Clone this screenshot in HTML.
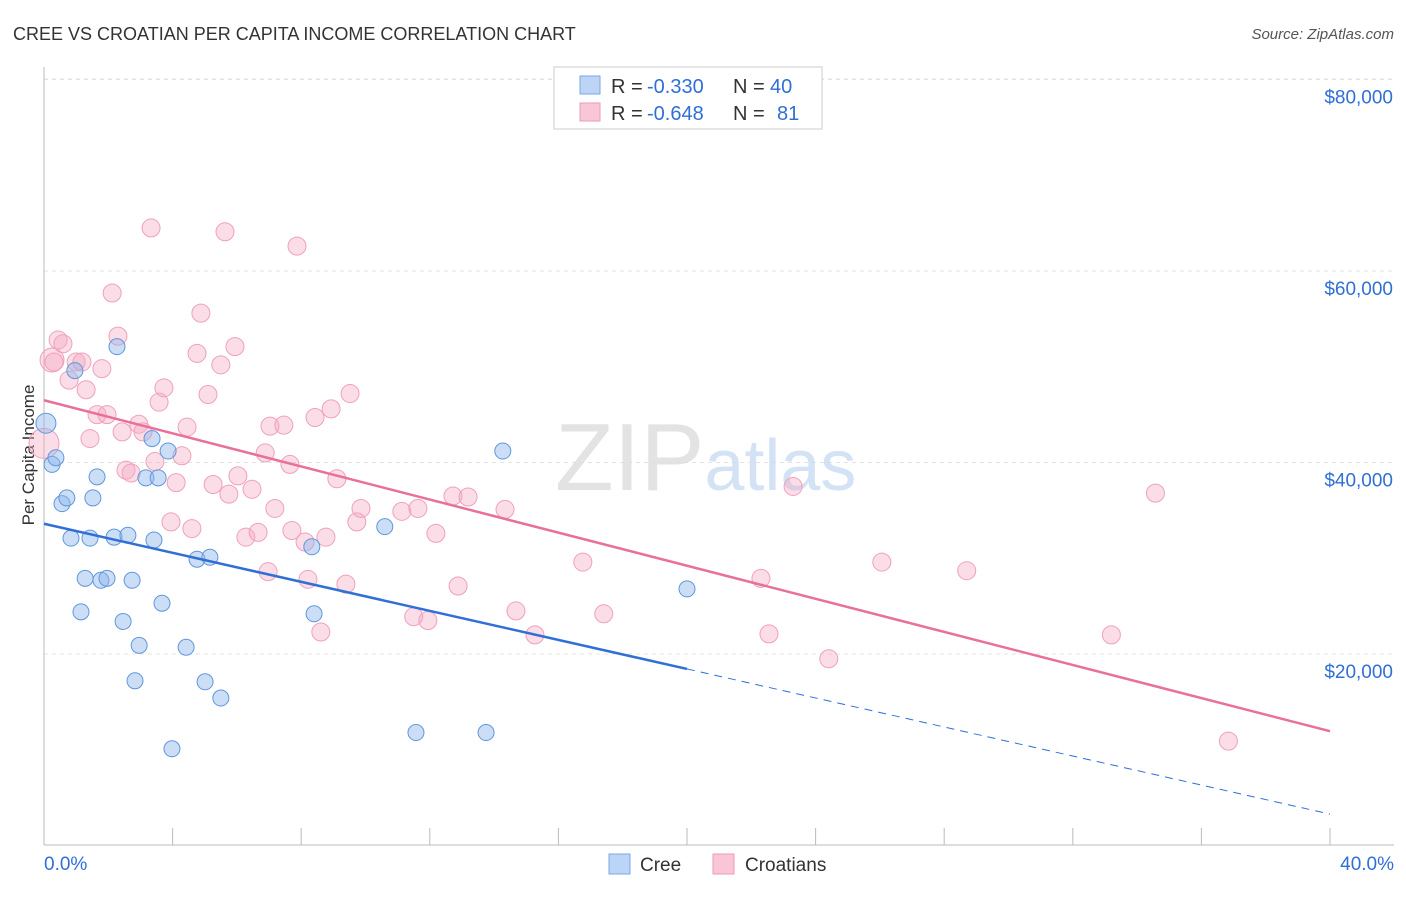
<!DOCTYPE html>
<html><head><meta charset="utf-8"><style>
body{margin:0;background:#fff;font-family:"Liberation Sans",sans-serif;}
svg text{font-family:"Liberation Sans",sans-serif;}
</style></head><body>
<svg id="chart" width="1406" height="892" viewBox="0 0 1406 892" xmlns="http://www.w3.org/2000/svg">
<text x="13" y="40" font-size="18" fill="#333">CREE VS CROATIAN PER CAPITA INCOME CORRELATION CHART</text>
<text x="1394" y="39" font-size="15" fill="#555" text-anchor="end" font-style="italic">Source: ZipAtlas.com</text>
<g id="grid"></g>
<text x="555" y="490" font-size="96" fill="#ddd" font-family="Liberation Serif" opacity="0.8">ZIP<tspan fill="#c9dcf2" font-family="Liberation Sans" font-size="72">atlas</tspan></text>
<text transform="translate(34,455) rotate(-90)" font-size="17" fill="#333" text-anchor="middle">Per Capita Income</text>
<g id="axes"></g>
<g id="marks"></g>
<g>
<rect x="554" y="67" width="268" height="62" fill="#fff" stroke="#ccc"/>
<rect x="580" y="76" width="20" height="18" fill="#bcd5f5" stroke="#7aa8e6"/>
<text x="611" y="93" font-size="20" fill="#333">R =</text>
<text x="647" y="93" font-size="20" fill="#2f6fd6">-0.330</text>
<text x="733" y="93" font-size="20" fill="#333">N =</text>
<text x="770" y="93" font-size="20" fill="#2f6fd6">40</text>
<rect x="580" y="103" width="20" height="18" fill="#f9c6d6" stroke="#ee9ab6"/>
<text x="611" y="120" font-size="20" fill="#333">R =</text>
<text x="647" y="120" font-size="20" fill="#2f6fd6">-0.648</text>
<text x="733" y="120" font-size="20" fill="#333">N =</text>
<text x="777" y="120" font-size="20" fill="#2f6fd6">81</text>
</g>
<g>
<rect x="609" y="854" width="21" height="20" fill="#bcd5f5" stroke="#7aa8e6"/>
<text x="640" y="871" font-size="19" fill="#333">Cree</text>
<rect x="713" y="854" width="21" height="20" fill="#f9c6d6" stroke="#ee9ab6"/>
<text x="745" y="871" font-size="19" fill="#333">Croatians</text>
</g>
</svg>
<script>
const xTicks=[0,4,8,12,16,20,24,28,32,36,40];
const yTicks=[20000,40000,60000,80000];
const yTickLabels=["$20,000","$40,000","$60,000","$80,000"];
const creeX=[0.06,0.25,0.37,0.56,0.71,0.84,0.96,1.15,1.28,1.43,1.52,1.65,1.77,1.96,2.18,2.27,2.46,2.61,2.74,2.83,2.96,3.17,3.36,3.42,3.55,3.67,3.86,3.98,4.42,4.76,5.01,5.16,5.50,8.33,8.40,10.6,11.57,13.75,14.27,20.0];
const creeY=[44100,39800,40500,35700,36300,32100,49600,24400,27900,32100,36300,38500,27700,27900,32200,52100,23400,32400,27700,17200,20900,38400,42500,31900,38400,25300,41200,10100,20700,29900,17100,30100,15400,31200,24200,33300,11800,11800,41200,26800];
const croX=[0.0,0.25,0.31,0.44,0.59,0.78,1.0,1.18,1.31,1.43,1.65,1.80,1.96,2.12,2.30,2.43,2.55,2.71,2.95,3.08,3.33,3.45,3.58,3.73,3.95,4.11,4.29,4.45,4.60,4.76,4.88,5.10,5.26,5.50,5.63,5.75,5.94,6.03,6.28,6.47,6.66,6.88,6.97,7.03,7.18,7.46,7.65,7.71,7.87,8.12,8.21,8.43,8.61,8.77,8.93,9.11,9.39,9.52,9.73,9.86,11.13,11.5,11.63,11.94,12.19,12.72,12.88,13.19,14.34,14.68,15.27,16.76,17.41,22.3,22.55,23.3,24.41,26.06,28.7,33.2,34.57,36.84];
const croY=[42000,50700,50500,52800,52400,48600,50500,50500,47600,42500,45000,49800,45000,57700,53200,43200,39200,38900,44000,43200,64500,40100,46300,47800,33800,37900,40700,43700,33100,51400,55600,47100,37700,50200,64100,36700,52100,38600,32200,37200,32700,41000,28600,43800,35200,43900,39800,32900,62600,31700,27800,44700,22300,32200,45600,38300,27300,47200,33800,35200,34900,23900,35200,23500,32600,36500,27100,36400,35100,24500,22000,29600,24200,27900,22100,37500,19500,29600,28700,22000,36800,10900];
const creeTrend=[33600,-758];
const croTrend=[46500,-864];
const NS="http://www.w3.org/2000/svg";
const X=v=>44+v/40*1286, Y=v=>845.5-v/20000*191.5;
function mk(p,tag,a){const e=document.createElementNS(NS,tag);for(const k in a)e.setAttribute(k,a[k]);document.getElementById(p).appendChild(e);return e;}
yTicks.forEach((t,i)=>{
 const l=mk('grid','line',{x1:44,x2:1394,y1:Y(t),y2:Y(t),stroke:'#e3e3e3','stroke-dasharray':'4,4'});
 
 
 const tx=mk('axes','text',{x:1393,y:Y(t)+24,'font-size':19,fill:'#2f6fd6','text-anchor':'end'});
 tx.textContent=yTickLabels[i];
 
 
});
mk('grid','line',{x1:44,x2:1394,y1:79,y2:79,stroke:'#e3e3e3','stroke-dasharray':'4,4'});
const ax=mk('axes','line',{x1:44,x2:44,y1:67,y2:845,stroke:'#bbb'});


const bx=mk('axes','line',{x1:44,x2:1394,y1:845,y2:845,stroke:'#bbb'});


xTicks.forEach(t=>{const l=mk('axes','line',{x1:X(t),x2:X(t),y1:828,y2:845,stroke:'#bbb'});
 
 });
const x0=mk('axes','text',{x:44,y:870,'font-size':19,fill:'#2f6fd6'});x0.textContent=xTicks[0].toFixed(1)+'%';


const x1=mk('axes','text',{x:1394,y:870,'font-size':19,fill:'#2f6fd6','text-anchor':'end'});x1.textContent=xTicks[xTicks.length-1].toFixed(1)+'%';


croX.forEach((v,i)=>{const r=i<2?(i==0?15:12):9;
 const c=mk('marks','circle',{cx:X(v),cy:Y(croY[i]),r:r,fill:'rgba(246,170,196,0.4)',stroke:'#f0a0bb','stroke-width':1});
 
 });
creeX.forEach((v,i)=>{const c=mk('marks','circle',{cx:X(v),cy:Y(creeY[i]),r:i==0?10:8,fill:'rgba(140,182,236,0.45)',stroke:'#5f97dd','stroke-width':1});
 
 });
const cl=mk('marks','line',{x1:X(0),y1:Y(creeTrend[0]),x2:X(20),y2:Y(creeTrend[0]+creeTrend[1]*20),stroke:'#2f6fd6','stroke-width':2.5});


const cd=mk('marks','line',{x1:X(20),y1:Y(creeTrend[0]+creeTrend[1]*20),x2:X(40),y2:Y(creeTrend[0]+creeTrend[1]*40),stroke:'#2f6fd6','stroke-width':1,'stroke-dasharray':'8,6'});


const pl=mk('marks','line',{x1:X(0),y1:Y(croTrend[0]),x2:X(40),y2:Y(croTrend[0]+croTrend[1]*40),stroke:'#e8709a','stroke-width':2.5});


</script>
</body></html>
